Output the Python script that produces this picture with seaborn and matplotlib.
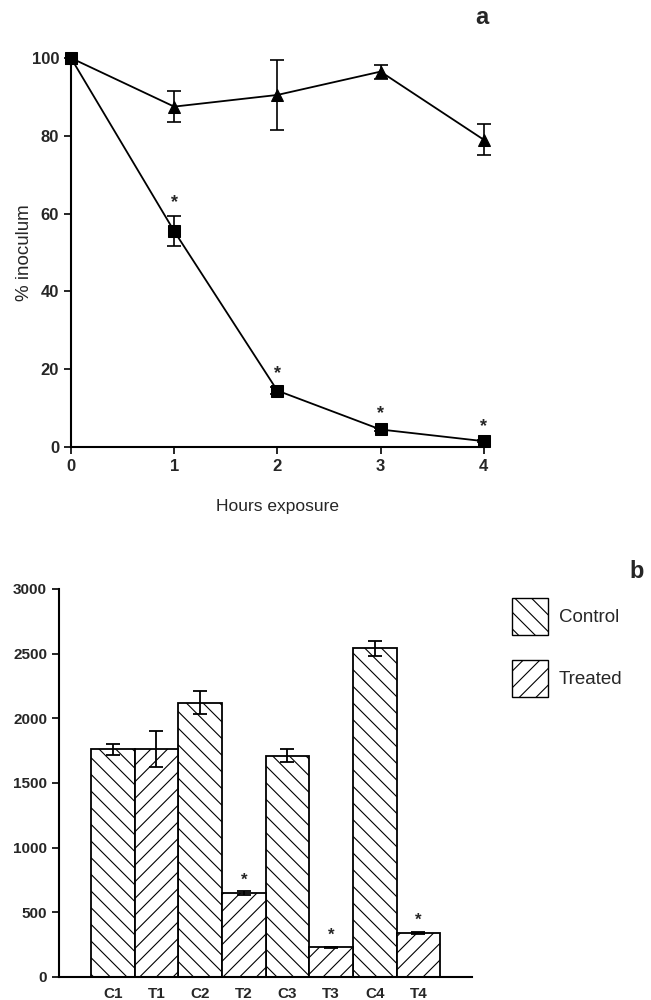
import matplotlib
matplotlib.use("Agg")
import matplotlib.pyplot as plt
import seaborn as sns
import pandas as pd
import numpy as np
from matplotlib.patches import Patch

sns.set_theme(style="white")
plt.rcParams['font.family'] = ['Liberation Sans', 'DejaVu Sans']
plt.rcParams['hatch.linewidth'] = 0.8

# ---- Panel a data ----
hours = [0, 1, 2, 3, 4]
tri_vals = [100, 87.5, 90.5, 96.5, 79]
tri_err = [0, 4, 9, 1.8, 4]
sq_vals = [100, 55.5, 14.5, 4.5, 1.5]
sq_err = [0, 3.8, 0.8, 0.5, 0.3]
sig_a = [False, True, True, True, True]

# ---- Panel b data ----
bar_labels = ["C1", "T1", "C2", "T2", "C3", "T3", "C4", "T4"]
bar_group = ["Control", "Treated"] * 4
bar_vals = [1760, 1765, 2120, 650, 1710, 230, 2540, 340]
bar_err = [45, 140, 90, 15, 50, 5, 60, 10]
sig_b = [False, False, False, True, False, True, False, True]

fig = plt.figure(figsize=(6.51, 10), dpi=100)

# ================= Panel a =================
ax1 = fig.add_axes([0.109, 0.553, 0.634, 0.389])
df_a = pd.DataFrame({"h": hours * 2,
                     "v": tri_vals + sq_vals,
                     "s": ["tri"] * 5 + ["sq"] * 5})
sns.lineplot(data=df_a, x="h", y="v", style="s", markers={"tri": "^", "sq": "s"},
             dashes=False, color="black", linewidth=1.3, markersize=9,
             legend=False, ax=ax1)
for line in ax1.lines:
    line.set_clip_on(False)
    line.set_markerfacecolor("black")
    line.set_markeredgecolor("black")
ax1.errorbar(hours[1:], tri_vals[1:], yerr=tri_err[1:], fmt="none", ecolor="black",
             elinewidth=1.2, capsize=5, capthick=1.2, clip_on=False)
ax1.errorbar(hours[1:], sq_vals[1:], yerr=sq_err[1:], fmt="none", ecolor="black",
             elinewidth=1.2, capsize=5, capthick=1.2, clip_on=False)
for h, v, e, s in zip(hours, sq_vals, sq_err, sig_a):
    if s:
        ax1.text(h, v + e + 3.5, "*", ha="center", va="center", fontsize=13,
                 fontweight="bold")
ax1.set_xlim(0, 4)
ax1.set_ylim(0, 100)
ax1.set_xticks(hours)
ax1.set_yticks([0, 20, 40, 60, 80, 100])
ax1.tick_params(axis="both", direction="out", length=5, width=1.2, color="black",
                labelsize=12, bottom=True, left=True)
for lab in ax1.get_xticklabels() + ax1.get_yticklabels():
    lab.set_fontweight("bold")
for sp in ["top", "right"]:
    ax1.spines[sp].set_visible(False)
for sp in ["left", "bottom"]:
    ax1.spines[sp].set_color("black")
    ax1.spines[sp].set_linewidth(1.5)
ax1.set_xlabel("Hours exposure", fontsize=12.5, labelpad=18)
ax1.set_ylabel("% inoculum", fontsize=13.5, labelpad=-1)
fig.text(0.74, 0.983, "a", fontsize=17, fontweight="bold", ha="center", va="center")

# ================= Panel b =================
ax2 = fig.add_axes([0.0906, 0.023, 0.634, 0.388])
df_b = pd.DataFrame({"lab": bar_labels, "val": bar_vals, "grp": bar_group})
sns.barplot(data=df_b, x="lab", y="val", hue="grp", dodge=False,
            palette={"Control": "white", "Treated": "white"},
            edgecolor="black", linewidth=1.3, width=1.0, legend=False, ax=ax2)
hatches = {"Control": "\\\\", "Treated": "//"}
for p, (i, row) in zip(sorted(ax2.patches, key=lambda q: q.get_x()), df_b.iterrows()):
    p.set_hatch(hatches[row["grp"]])
    p.set_edgecolor("black")
xs = np.arange(len(bar_labels))
ax2.errorbar(xs, bar_vals, yerr=bar_err, fmt="none", ecolor="black",
             elinewidth=1.3, capsize=5, capthick=1.3)
for x, v, e, s in zip(xs, bar_vals, bar_err, sig_b):
    if s:
        ax2.text(x, v + e + 85, "*", ha="center", va="center", fontsize=12,
                 fontweight="bold")
ax2.set_xlim(-1.23, 8.22)
ax2.set_ylim(0, 3000)
ax2.set_yticks([0, 500, 1000, 1500, 2000, 2500, 3000])
ax2.set_xlabel("")
ax2.set_ylabel("")
ax2.tick_params(axis="y", direction="out", length=5, width=1.2, color="black",
                labelsize=11, left=True)
ax2.tick_params(axis="x", labelsize=11, bottom=False, pad=1.5)
for lab in ax2.get_xticklabels() + ax2.get_yticklabels():
    lab.set_fontweight("bold")
for sp in ["top", "right"]:
    ax2.spines[sp].set_visible(False)
for sp in ["left", "bottom"]:
    ax2.spines[sp].set_color("black")
    ax2.spines[sp].set_linewidth(1.5)

handles = [Patch(facecolor="white", edgecolor="black", hatch="\\\\", label="Control"),
           Patch(facecolor="white", edgecolor="black", hatch="//", label="Treated")]
fig.legend(handles=handles, loc="upper left", bbox_to_anchor=(0.781, 0.406),
           frameon=False, fontsize=13.5, handlelength=1.9, handleheight=2.7,
           labelspacing=1.3, handletextpad=0.6, borderpad=0.2, borderaxespad=0)
fig.text(0.978, 0.428, "b", fontsize=17, fontweight="bold", ha="center", va="center")

fig.savefig("out.png", dpi=100)
